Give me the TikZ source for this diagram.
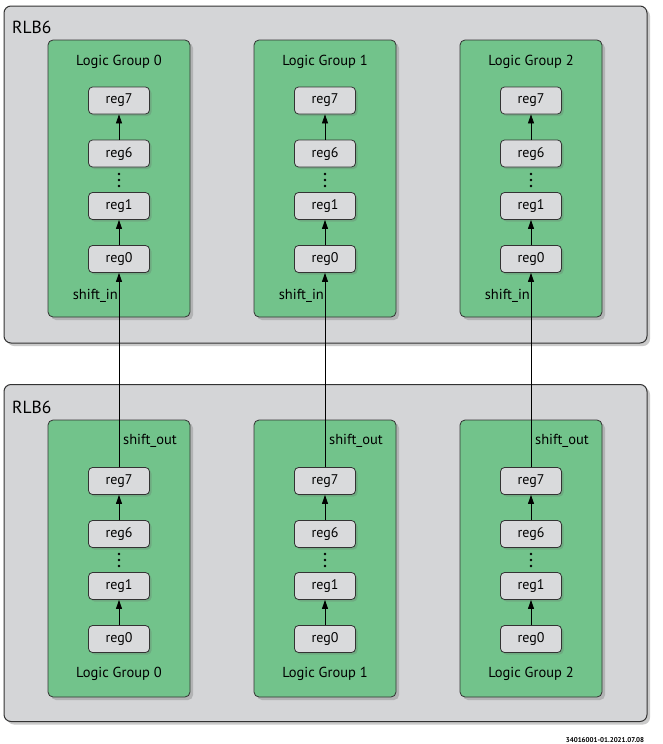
\documentclass[tikz,border=0pt]{standalone}
\usepackage{fontspec}
\setmainfont{PT Sans}
\usetikzlibrary{arrows.meta,shadows}
\definecolor{outerfill}{HTML}{D4D5D7}
\definecolor{groupfill}{HTML}{72C38B}
\definecolor{regfill}{HTML}{D9DADC}
\definecolor{edge}{HTML}{333333}
\tikzset{
  outerbox/.style={draw=edge, line width=1pt, fill=outerfill, rounded corners=7pt,
    minimum width=643pt, minimum height=337pt, inner sep=0pt,
    drop shadow={shadow xshift=3pt, shadow yshift=-3pt, opacity=0.35, fill=black!60}},
  groupbox/.style={draw=edge, line width=0.8pt, fill=groupfill, rounded corners=5pt,
    minimum width=142pt, minimum height=277pt, inner sep=0pt,
    drop shadow={shadow xshift=3pt, shadow yshift=-3pt, opacity=0.3, fill=black!60}},
  regbox/.style={draw=edge, line width=0.8pt, fill=regfill, rounded corners=4pt,
    minimum width=61pt, minimum height=27pt, inner sep=0pt, font=\fontsize{14}{16}\selectfont,
    drop shadow={shadow xshift=2pt, shadow yshift=-2pt, opacity=0.25, fill=black!60}},
  lbl/.style={inner sep=0pt, font=\fontsize{14.5}{16}\selectfont},
  ttl/.style={inner sep=0pt, font=\fontsize{17.5}{20}\selectfont},
  conn/.style={draw=black, line width=0.7pt, -{Triangle[length=9pt,width=6pt]}},
  dotc/.style={circle, fill=black, inner sep=0pt, minimum size=2.8pt},
}
\begin{document}
\begin{tikzpicture}[x=1pt,y=-1pt]
\useasboundingbox (0,0) rectangle (663,744);
\node[outerbox] (topbox) at (325.5,174.5) {};
\node[outerbox] (botbox) at (325.5,553) {};
\node[ttl, anchor=west] (rlbA) at (12,27) {RLB6};
\node[ttl, anchor=west] (rlbB) at (12,407) {RLB6};
\foreach \g/\cx in {0/119,1/325,2/531} {
  % top group
  \node[groupbox] (tg\g) at (\cx,178.5) {};
  \node[lbl] (tt\g) at (\cx,62) {Logic Group \g};
  \node[regbox] (t7\g) at (\cx,100.5) {reg7};
  \node[regbox] (t6\g) at (\cx,153.5) {reg6};
  \node[regbox] (t1\g) at (\cx,206) {reg1};
  \node[regbox] (t0\g) at (\cx,259) {reg0};
  \node[dotc] (td1\g) at (\cx,174) {};
  \node[dotc] (td2\g) at (\cx,180) {};
  \node[dotc] (td3\g) at (\cx,186) {};
  \draw[conn] (t6\g) -- (t7\g);
  \draw[conn] (t0\g) -- (t1\g);
  \node[lbl, anchor=east] (si\g) at (\cx-1,296) {shift\_in};
  % bottom group
  \node[groupbox] (bg\g) at (\cx,558.5) {};
  \node[lbl] (bt\g) at (\cx,674) {Logic Group \g};
  \node[regbox] (b7\g) at (\cx,481) {reg7};
  \node[regbox] (b6\g) at (\cx,534) {reg6};
  \node[regbox] (b1\g) at (\cx,586) {reg1};
  \node[regbox] (b0\g) at (\cx,639) {reg0};
  \node[dotc] (bd1\g) at (\cx,554) {};
  \node[dotc] (bd2\g) at (\cx,560) {};
  \node[dotc] (bd3\g) at (\cx,566) {};
  \draw[conn] (b6\g) -- (b7\g);
  \draw[conn] (b0\g) -- (b1\g);
  \node[lbl, anchor=west] (so\g) at (\cx+4,441) {shift\_out};
  \draw[conn] (b7\g) -- (t0\g);
}
\node[inner sep=0pt, font=\fontsize{7}{8}\selectfont\bfseries] (foot) at (605,740) {34016001-01.2021.07.08};
\end{tikzpicture}
\end{document}
